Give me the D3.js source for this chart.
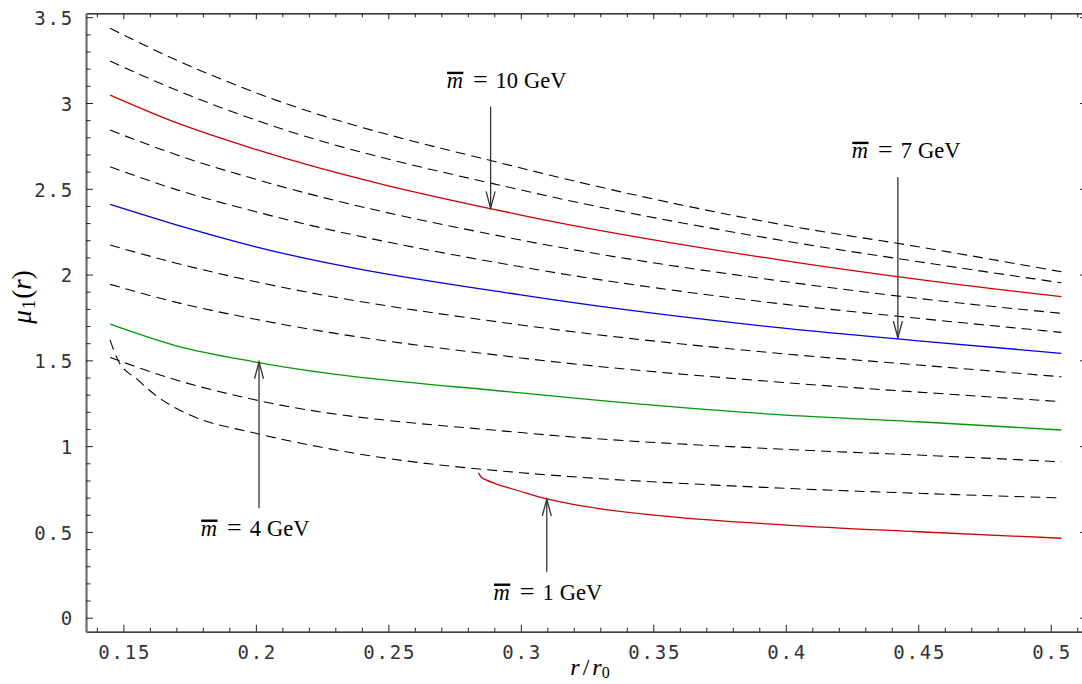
<!DOCTYPE html>
<html><head><meta charset="utf-8">
<script src="https://cdn.jsdelivr.net/npm/d3@7"></script>
<style>html,body{margin:0;padding:0;background:#fff;} svg{display:block;background:#fff;}</style>
</head><body>
<svg id="chart" width="1082" height="684"></svg>
<script>
// ---------- data ----------
const rStd = [0.145, 0.17, 0.2, 0.3, 0.4, 0.45, 0.504];
const mu12 = [3.435, 3.250, 3.060, 2.621, 2.287, 2.162, 2.016];
const mu11 = [3.244, 3.075, 2.900, 2.493, 2.195, 2.075, 1.952];
const mu10 = [3.046, 2.885, 2.729, 2.347, 2.080, 1.972, 1.871];
const mu9  = [2.842, 2.698, 2.555, 2.201, 1.958, 1.861, 1.774];
const mu8  = [2.628, 2.495, 2.366, 2.045, 1.826, 1.745, 1.663];
const mu7  = [2.409, 2.290, 2.162, 1.881, 1.686, 1.614, 1.541];
const mu6  = [2.172, 2.066, 1.958, 1.706, 1.537, 1.473, 1.404];
const mu5  = [1.943, 1.838, 1.739, 1.514, 1.370, 1.315, 1.259];
const mu4  = [1.711, 1.585, 1.490, 1.310, 1.181, 1.142, 1.094];
const mu3  = [1.517, 1.385, 1.269, 1.079, 0.981, 0.948, 0.909];
const r2   = [0.145, 0.148, 0.1555, 0.1631, 0.1752, 0.2, 0.2242, 0.2468, 0.2694, 0.2833, 0.3, 0.4, 0.45, 0.504];
const mu2  = [1.618, 1.500, 1.386, 1.286, 1.181, 1.075, 0.995, 0.935, 0.890, 0.868, 0.845, 0.754, 0.725, 0.698];
const r1   = [0.2840, 0.2850, 0.2869, 0.2903, 0.2948, 0.2997, 0.3098, 0.3248, 0.3563, 0.4001, 0.4500, 0.504];
const mu1  = [0.845, 0.820, 0.803, 0.782, 0.760, 0.737, 0.692, 0.647, 0.589, 0.540, 0.501, 0.463];

const xMajor = [0.15, 0.2, 0.25, 0.3, 0.35, 0.4, 0.45, 0.5];
const xTickLabels = ["0.15", "0.2", "0.25", "0.3", "0.35", "0.4", "0.45", "0.5"];
const yMajor = [0, 0.5, 1, 1.5, 2, 2.5, 3, 3.5];
const yTickLabels = ["0", "0.5", "1", "1.5", "2", "2.5", "3", "3.5"];

const annMass   = ["10", "7", "4", "1"];
const annR      = [0.2886, 0.4423, 0.2012, 0.3098];
const annTip    = [2.386, 1.630, 1.492, 0.692];
const annTail   = [2.978, 2.569, 0.638, 0.268];
const annTextR  = [0.2720, 0.4249, 0.1792, 0.2897];
const annTextMu = [3.086, 2.678, 0.476, 0.103];

// ---------- scales ----------
const svg = d3.select("#chart");
const x = d3.scaleLinear().domain([0.1359, 0.5133]).range([86, 1086]);
const y = d3.scaleLinear().domain([-0.0816, 3.5227]).range([631.7, 13.3]);

const xMinor = d3.range(14, 52).map(v => v / 100).filter(v => !xMajor.some(m => Math.abs(m - v) < 1e-9));
const yMinor = d3.range(0, 36).map(v => v / 10).filter(v => !yMajor.some(m => Math.abs(m - v) < 1e-9));

const tickFont = "'DejaVu Sans Mono', monospace";
const tickSize = "19px";
const tickSpacing = "1.8px";

function styleAxis(g, color, width) {
  g.select(".domain").attr("stroke", color).attr("stroke-width", width);
  g.selectAll(".tick line").attr("stroke", "#222").attr("stroke-width", 1);
}

// bottom
const gb = svg.append("g").attr("transform", `translate(0,${y.range()[0]})`)
  .call(d3.axisBottom(x).tickValues(xMajor).tickFormat((d, i) => xTickLabels[i])
    .tickSizeInner(-7).tickSizeOuter(0).tickPadding(14));
styleAxis(gb, "#000", 1.3);
gb.selectAll("text").style("font-family", tickFont).style("font-size", tickSize)
  .style("letter-spacing", tickSpacing).attr("fill", "#333").attr("dx", "0.9");
svg.append("g").attr("transform", `translate(0,${y.range()[0]})`)
  .call(d3.axisBottom(x).tickValues(xMinor).tickFormat("").tickSizeInner(-4).tickSizeOuter(0))
  .call(g => { g.select(".domain").remove(); g.selectAll(".tick line").attr("stroke", "#222"); });

// top
const gt = svg.append("g").attr("transform", `translate(0,${y.range()[1]})`)
  .call(d3.axisTop(x).tickValues(xMajor).tickFormat("").tickSizeInner(-6).tickSizeOuter(0));
styleAxis(gt, "#000", 1.3);
svg.append("g").attr("transform", `translate(0,${y.range()[1]})`)
  .call(d3.axisTop(x).tickValues(xMinor).tickFormat("").tickSizeInner(-4).tickSizeOuter(0))
  .call(g => { g.select(".domain").remove(); g.selectAll(".tick line").attr("stroke", "#222"); });

// left
const gl = svg.append("g").attr("transform", `translate(${x.range()[0]},0)`)
  .call(d3.axisLeft(y).tickValues(yMajor).tickFormat((d, i) => yTickLabels[i])
    .tickSizeInner(-7).tickSizeOuter(0).tickPadding(12));
styleAxis(gl, "#6e6e6e", 2.2);
gl.selectAll("text").style("font-family", tickFont).style("font-size", tickSize)
  .style("letter-spacing", tickSpacing).attr("fill", "#333").attr("dy", "0.38em");
svg.append("g").attr("transform", `translate(${x.range()[0]},0)`)
  .call(d3.axisLeft(y).tickValues(yMinor).tickFormat("").tickSizeInner(-4.5).tickSizeOuter(0))
  .call(g => { g.select(".domain").remove(); g.selectAll(".tick line").attr("stroke", "#222"); });

// right
const gr = svg.append("g").attr("transform", `translate(${x.range()[1]},0)`)
  .call(d3.axisRight(y).tickValues(yMajor).tickFormat("").tickSizeInner(-6).tickSizeOuter(0));
styleAxis(gr, "#000", 1.3);

// ---------- curves ----------
const series = [
  { r: rStd, mu: mu12, color: "#000", dashed: true },
  { r: rStd, mu: mu11, color: "#000", dashed: true },
  { r: rStd, mu: mu9,  color: "#000", dashed: true },
  { r: rStd, mu: mu8,  color: "#000", dashed: true },
  { r: rStd, mu: mu6,  color: "#000", dashed: true },
  { r: rStd, mu: mu5,  color: "#000", dashed: true },
  { r: rStd, mu: mu3,  color: "#000", dashed: true },
  { r: r2,   mu: mu2,  color: "#000", dashed: true },
  { r: rStd, mu: mu10, color: "#cc0000", dashed: false },
  { r: rStd, mu: mu7,  color: "#0000e6", dashed: false },
  { r: rStd, mu: mu4,  color: "#009a00", dashed: false },
  { r: r1,   mu: mu1,  color: "#cc0000", dashed: false }
];
const line = d3.line().x(d => x(d[0])).y(d => y(d[1])).curve(d3.curveMonotoneX);
svg.append("g").selectAll("path").data(series).join("path")
  .attr("d", s => line(s.r.map((r, i) => [r, s.mu[i]])))
  .attr("fill", "none")
  .attr("stroke", s => s.color)
  .attr("stroke-width", s => s.dashed ? 1.1 : 1.3)
  .attr("stroke-dasharray", s => s.dashed ? "10,6" : null);

// ---------- annotations ----------
const annG = svg.append("g");
annMass.forEach((m, i) => {
  const ax = x(annR[i]);
  const yTip = y(annTip[i]);
  const yTail = y(annTail[i]);
  const dir = yTail > yTip ? 1 : -1;
  annG.append("line").attr("x1", ax).attr("x2", ax).attr("y1", yTail).attr("y2", yTip)
    .attr("stroke", "#333").attr("stroke-width", 1.3);
  annG.append("path")
    .attr("d", `M${ax - 4.5},${yTip + dir * 17}L${ax},${yTip}L${ax + 4.5},${yTip + dir * 17}`)
    .attr("fill", "none").attr("stroke", "#333").attr("stroke-width", 1.3);

  const tx = x(annTextR[i]), ty = y(annTextMu[i]);
  const t = annG.append("text").attr("x", tx).attr("y", ty)
    .style("font-family", "'Liberation Serif', 'Times New Roman', serif")
    .style("font-size", "22.5px").attr("fill", "#000");
  t.append("tspan").style("font-style", "italic").text("m");
  t.append("tspan").attr("dx", 10).style("font-size", "26px").text("=");
  t.append("tspan").attr("dx", 8).text(m);
  t.append("tspan").attr("dx", 6).text("GeV");
  const ext = t.node().getExtentOfChar(0);
  annG.append("rect").attr("x", ext.x + 0.5).attr("width", ext.width)
    .attr("y", ty - 16.5).attr("height", 2.4).attr("fill", "#000");
});

// ---------- axis titles ----------
const serif = "'Liberation Serif', 'Times New Roman', serif";
const yt = svg.append("text").attr("transform", "translate(31,297) rotate(-90)")
  .attr("text-anchor", "middle").style("font-family", serif).style("font-size", "27px");
yt.append("tspan").style("font-style", "italic").text("μ");
yt.append("tspan").attr("dy", 4).attr("dx", 1).style("font-size", "19px").text("1");
yt.append("tspan").attr("dy", -4).attr("dx", 1).text("(");
yt.append("tspan").style("font-style", "italic").text("r");
yt.append("tspan").text(")");

const xt = svg.append("text").attr("x", 590).attr("y", 675)
  .attr("text-anchor", "middle").style("font-family", serif).style("font-size", "24px");
xt.append("tspan").style("font-style", "italic").text("r");
xt.append("tspan").attr("dx", 3).text("/");
xt.append("tspan").attr("dx", 3).style("font-style", "italic").text("r");
xt.append("tspan").attr("dy", 3).style("font-size", "16px").text("0");
</script>
</body></html>
